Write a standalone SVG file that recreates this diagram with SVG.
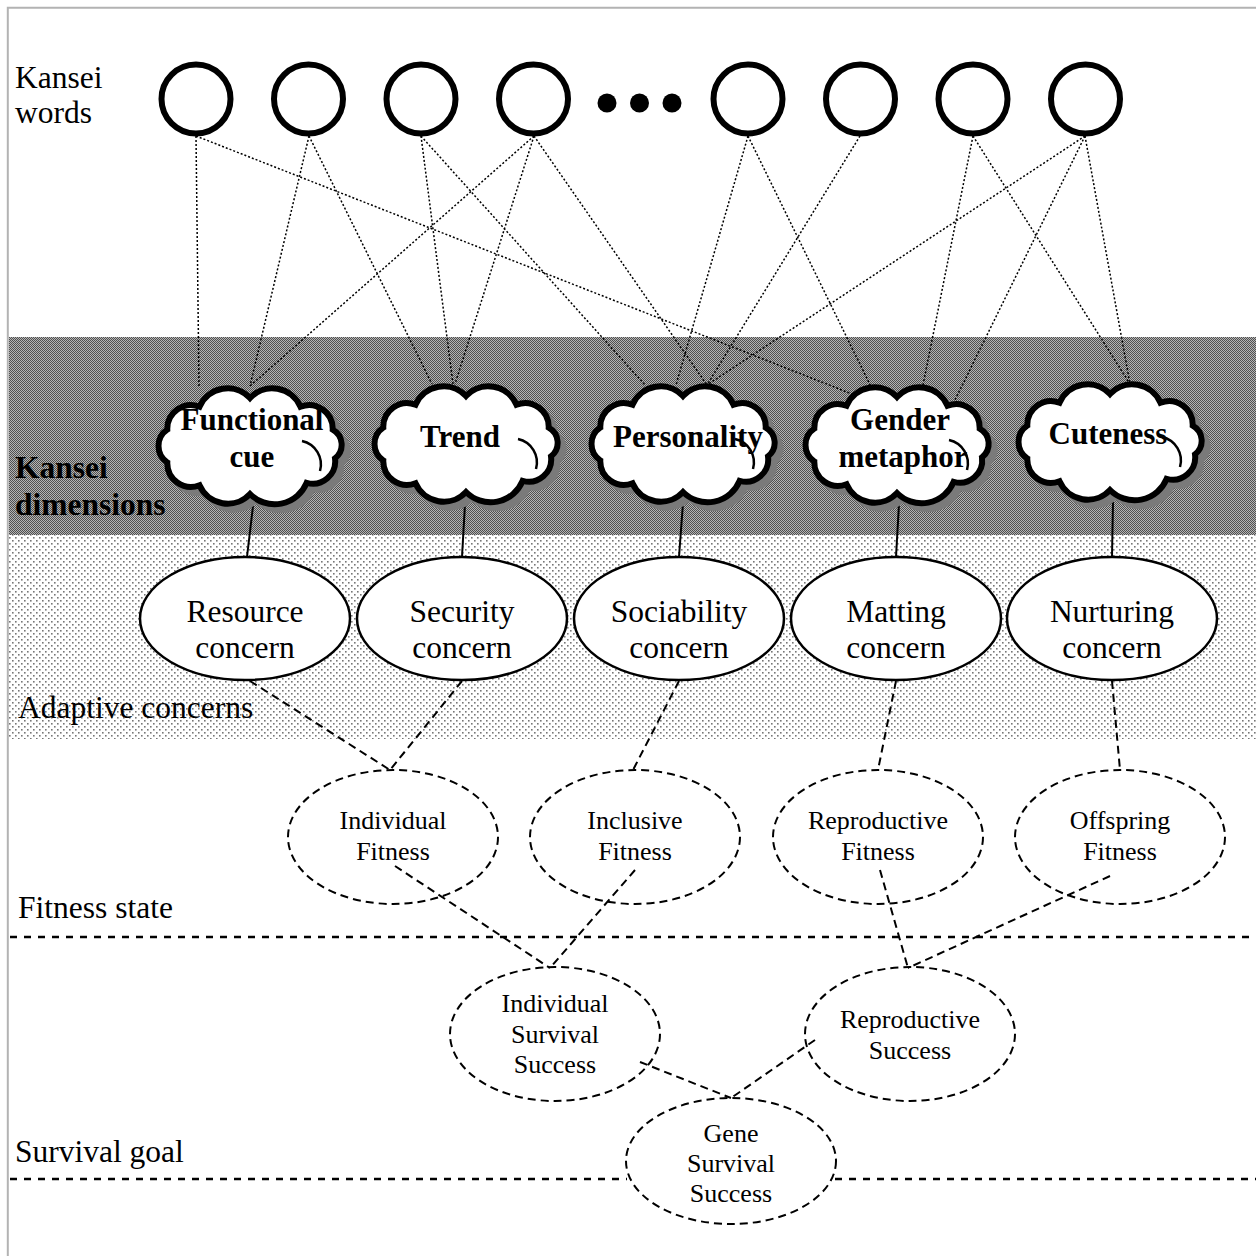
<svg xmlns="http://www.w3.org/2000/svg" width="1256" height="1256" viewBox="0 0 1256 1256">
  <defs>
    <!-- fine checker used for the Kansei dimensions band -->
    <pattern id="checker" width="2" height="2" patternUnits="userSpaceOnUse">
      <rect width="2" height="2" fill="#b4b4b4"/>
      <rect width="1" height="1" fill="#505050"/>
      <rect x="1" y="1" width="1" height="1" fill="#505050"/>
    </pattern>
    <!-- dot screen used for the Adaptive concerns band -->
    <pattern id="dots" width="6" height="6" patternUnits="userSpaceOnUse">
      <rect width="6" height="6" fill="#fff"/>
      <rect x="0" y="0" width="1.6" height="1.6" fill="#777"/>
      <rect x="3" y="3" width="1.6" height="1.6" fill="#777"/>
    </pattern>
    <path id="cloud" d="M -82.7,-16.4 A 23.7 23.7 0 0 1 -50.5,-39.3 A 30.7 30.7 0 0 1 0,-48 A 30.7 30.7 0 0 1 50.5,-39.3 A 23.7 23.7 0 0 1 82.7,-16.4 A 17.3 17.3 0 0 1 85,12.4 A 22.4 22.4 0 0 1 56.6,36.8 A 34.6 34.6 0 0 1 0,48 A 30.7 30.7 0 0 1 -50.5,39.3 A 23.7 23.7 0 0 1 -82.7,16.4 A 19.7 19.7 0 0 1 -82.7,-16.4 Z"/>
    <g id="cloudShape">
      <use href="#cloud" transform="translate(6,6)" fill="#7a7a7a" stroke="#7a7a7a" stroke-width="6"/>
      <use href="#cloud" fill="#fff" stroke="#000" stroke-width="6"/>
      <path d="M 52,-5 A 24 24 0 0 1 70,25" fill="none" stroke="#000" stroke-width="2.5"/>
    </g>
  </defs>
  <style>
    .label { font-family: "Liberation Serif", "Times New Roman", serif; font-size: 31.5px; fill: #000; }
    .bold { font-weight: bold; }
    .cloudText { font-family: "Liberation Serif", "Times New Roman", serif; font-size: 31px; font-weight: bold; text-anchor: middle; }
    .concernText { font-family: "Liberation Serif", "Times New Roman", serif; font-size: 31.5px; text-anchor: middle; }
    .smallText { font-family: "Liberation Serif", "Times New Roman", serif; font-size: 26px; text-anchor: middle; }
    .word { fill: #fff; stroke: #000; stroke-width: 6; }
    .concern { fill: #fff; stroke: #000; stroke-width: 2.5; }
    .dashedNode { fill: none; stroke: #000; stroke-width: 2; stroke-dasharray: 8 5; }
    .dotted { stroke: #000; stroke-width: 1.5; stroke-dasharray: 2 2; fill: none; }
    .dashed { stroke: #000; stroke-width: 2; stroke-dasharray: 8 5; fill: none; }
    .solid { stroke: #000; stroke-width: 2; fill: none; }
    .divider { stroke: #000; stroke-width: 2.5; stroke-dasharray: 7 7; fill: none; }
  </style>

  <rect width="1256" height="1256" fill="#fff"/>

  <!-- layer bands -->
  <rect x="9" y="337" width="1247" height="198" fill="url(#checker)"/>
  <rect x="9" y="535" width="1247" height="204" fill="url(#dots)"/>

  <!-- frame -->
  <path d="M 7.8,1256 V 7.8 H 1256" fill="none" stroke="#b3b3b3" stroke-width="2"/>

  <!-- layer labels -->
  <text class="label" x="15" y="88">Kansei</text>
  <text class="label" x="15" y="123">words</text>
  <text class="label bold" x="15" y="478">Kansei</text>
  <text class="label bold" x="15" y="515">dimensions</text>
  <text class="label" x="18" y="718">Adaptive concerns</text>
  <text class="label" x="18" y="918">Fitness state</text>
  <text class="label" x="15" y="1162">Survival goal</text>

  <!-- level dividers -->
  <line class="divider" x1="10" y1="937" x2="1256" y2="937"/>
  <line class="divider" x1="10" y1="1179" x2="627" y2="1179"/>
  <line class="divider" x1="835" y1="1179" x2="1256" y2="1179"/>

  <!-- connectors -->
  <g id="connectors">
    <line class="dotted" x1="196" y1="136" x2="199" y2="386"/>
    <line class="dotted" x1="196" y1="136" x2="880" y2="405"/>
    <line class="dotted" x1="309" y1="136" x2="250" y2="386"/>
    <line class="dotted" x1="309" y1="136" x2="432" y2="384"/>
    <line class="dotted" x1="421" y1="136" x2="453" y2="384"/>
    <line class="dotted" x1="421" y1="136" x2="645" y2="385"/>
    <line class="dotted" x1="534" y1="136" x2="250" y2="386"/>
    <line class="dotted" x1="534" y1="136" x2="455" y2="384"/>
    <line class="dotted" x1="534" y1="136" x2="707" y2="385"/>
    <line class="dotted" x1="748" y1="136" x2="676" y2="385"/>
    <line class="dotted" x1="748" y1="136" x2="880" y2="405"/>
    <line class="dotted" x1="860" y1="136" x2="707" y2="385"/>
    <line class="dotted" x1="973" y1="136" x2="920" y2="400"/>
    <line class="dotted" x1="973" y1="136" x2="1130" y2="384"/>
    <line class="dotted" x1="1085" y1="136" x2="707" y2="385"/>
    <line class="dotted" x1="1085" y1="136" x2="955" y2="400"/>
    <line class="dotted" x1="1085" y1="136" x2="1130" y2="384"/>

    <line class="solid" x1="253" y1="506" x2="247" y2="557"/>
    <line class="solid" x1="465" y1="504" x2="462" y2="557"/>
    <line class="solid" x1="683" y1="503" x2="679" y2="557"/>
    <line class="solid" x1="899" y1="504" x2="896" y2="557"/>
    <line class="solid" x1="1113" y1="502" x2="1112" y2="557"/>

    <line class="dashed" x1="250" y1="681" x2="390" y2="770"/>
    <line class="dashed" x1="462" y1="681" x2="390" y2="770"/>
    <line class="dashed" x1="679" y1="681" x2="633" y2="770"/>
    <line class="dashed" x1="896" y1="681" x2="878" y2="770"/>
    <line class="dashed" x1="1112" y1="681" x2="1120" y2="770"/>

    <line class="dashed" x1="395" y1="866" x2="550" y2="968"/>
    <line class="dashed" x1="635" y1="870" x2="550" y2="968"/>
    <line class="dashed" x1="880" y1="870" x2="908" y2="968"/>
    <line class="dashed" x1="1110" y1="876" x2="908" y2="968"/>

    <line class="dashed" x1="640" y1="1062" x2="731" y2="1098"/>
    <line class="dashed" x1="815" y1="1040" x2="731" y2="1098"/>
  </g>

  <!-- Kansei words -->
  <g id="kansei-words">
    <circle class="word" cx="196" cy="99" r="34.5"/>
    <circle class="word" cx="308.5" cy="99" r="34.5"/>
    <circle class="word" cx="421" cy="99" r="34.5"/>
    <circle class="word" cx="533.5" cy="99" r="34.5"/>
    <circle cx="607" cy="103" r="9.5"/>
    <circle cx="639.5" cy="103" r="9.5"/>
    <circle cx="672" cy="103" r="9.5"/>
    <circle class="word" cx="748" cy="99" r="34.5"/>
    <circle class="word" cx="860.5" cy="99" r="34.5"/>
    <circle class="word" cx="973" cy="99" r="34.5"/>
    <circle class="word" cx="1085.5" cy="99" r="34.5"/>
  </g>

  <!-- Kansei dimensions -->
  <g id="dim-functional-cue">
    <use href="#cloudShape" transform="translate(250,446)"/>
    <text class="cloudText" x="252" y="430">Functional</text>
    <text class="cloudText" x="252" y="467">cue</text>
  </g>
  <g id="dim-trend">
    <use href="#cloudShape" transform="translate(466,444)"/>
    <text class="cloudText" x="460" y="447">Trend</text>
  </g>
  <g id="dim-personality">
    <use href="#cloudShape" transform="translate(683,444)"/>
    <text class="cloudText" x="688" y="447">Personality</text>
  </g>
  <g id="dim-gender-metaphor">
    <use href="#cloudShape" transform="translate(897,445)"/>
    <text class="cloudText" x="900" y="430">Gender</text>
    <text class="cloudText" x="903" y="467">metaphor</text>
  </g>
  <g id="dim-cuteness">
    <use href="#cloudShape" transform="translate(1110,442)"/>
    <text class="cloudText" x="1108" y="444">Cuteness</text>
  </g>

  <!-- Adaptive concerns -->
  <g id="concern-resource">
    <ellipse class="concern" cx="245" cy="618.5" rx="105" ry="61.5"/>
    <text class="concernText" x="245" y="622">Resource</text>
    <text class="concernText" x="245" y="658">concern</text>
  </g>
  <g id="concern-security">
    <ellipse class="concern" cx="462" cy="618.5" rx="105" ry="61.5"/>
    <text class="concernText" x="462" y="622">Security</text>
    <text class="concernText" x="462" y="658">concern</text>
  </g>
  <g id="concern-sociability">
    <ellipse class="concern" cx="679" cy="618.5" rx="105" ry="61.5"/>
    <text class="concernText" x="679" y="622">Sociability</text>
    <text class="concernText" x="679" y="658">concern</text>
  </g>
  <g id="concern-matting">
    <ellipse class="concern" cx="896" cy="618.5" rx="105" ry="61.5"/>
    <text class="concernText" x="896" y="622">Matting</text>
    <text class="concernText" x="896" y="658">concern</text>
  </g>
  <g id="concern-nurturing">
    <ellipse class="concern" cx="1112" cy="618.5" rx="105" ry="61.5"/>
    <text class="concernText" x="1112" y="622">Nurturing</text>
    <text class="concernText" x="1112" y="658">concern</text>
  </g>

  <!-- Fitness state -->
  <g id="fitness-individual">
    <ellipse class="dashedNode" cx="393" cy="837" rx="105" ry="67"/>
    <text class="smallText" x="393" y="829">Individual</text>
    <text class="smallText" x="393" y="860">Fitness</text>
  </g>
  <g id="fitness-inclusive">
    <ellipse class="dashedNode" cx="635" cy="837" rx="105" ry="67"/>
    <text class="smallText" x="635" y="829">Inclusive</text>
    <text class="smallText" x="635" y="860">Fitness</text>
  </g>
  <g id="fitness-reproductive">
    <ellipse class="dashedNode" cx="878" cy="837" rx="105" ry="67"/>
    <text class="smallText" x="878" y="829">Reproductive</text>
    <text class="smallText" x="878" y="860">Fitness</text>
  </g>
  <g id="fitness-offspring">
    <ellipse class="dashedNode" cx="1120" cy="837" rx="105" ry="67"/>
    <text class="smallText" x="1120" y="829">Offspring</text>
    <text class="smallText" x="1120" y="860">Fitness</text>
  </g>

  <!-- Survival goal -->
  <g id="individual-survival-success">
    <ellipse class="dashedNode" cx="555" cy="1034" rx="105" ry="67"/>
    <text class="smallText" x="555" y="1012">Individual</text>
    <text class="smallText" x="555" y="1043">Survival</text>
    <text class="smallText" x="555" y="1073">Success</text>
  </g>
  <g id="reproductive-success">
    <ellipse class="dashedNode" cx="910" cy="1034" rx="105" ry="67"/>
    <text class="smallText" x="910" y="1028">Reproductive</text>
    <text class="smallText" x="910" y="1059">Success</text>
  </g>
  <g id="gene-survival-success">
    <ellipse class="dashedNode" cx="731" cy="1161" rx="105" ry="63"/>
    <text class="smallText" x="731" y="1142">Gene</text>
    <text class="smallText" x="731" y="1172">Survival</text>
    <text class="smallText" x="731" y="1202">Success</text>
  </g>
</svg>
